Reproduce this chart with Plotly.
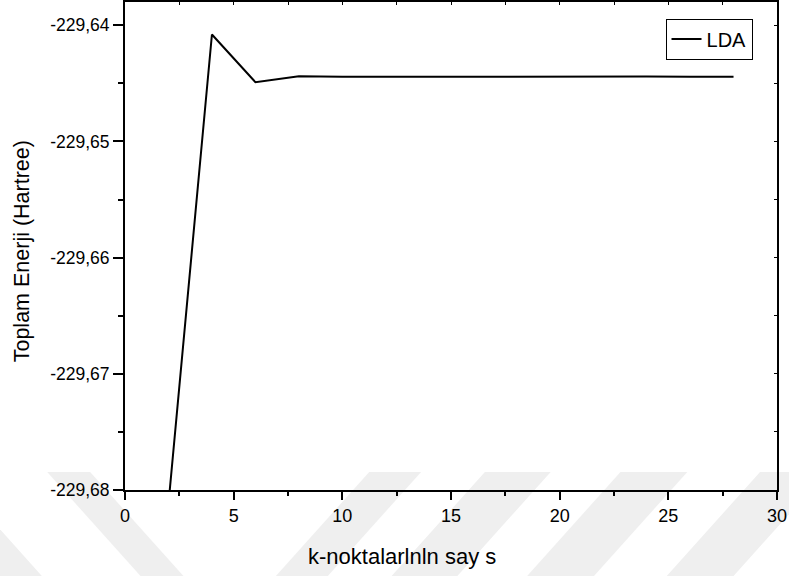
import plotly.graph_objects as go

k_points = [2, 4, 6, 8, 10, 12, 14, 16, 18, 20, 22, 24, 26, 28]
energy = [-229.6812, -229.6408, -229.6449, -229.64440, -229.64443, -229.64442,
          -229.64442, -229.64443, -229.64442, -229.64443, -229.64443, -229.64442,
          -229.64443, -229.64443]
series_name = "LDA"
y_ticks = [-229.68, -229.67, -229.66, -229.65, -229.64]
y_labels = ["-229,68", "-229,67", "-229,66", "-229,65", "-229,64"]
x_ticks = [0, 5, 10, 15, 20, 25, 30]

FONT = "Liberation Sans, Arial, sans-serif"
W, H = 789, 576
ML, MR, MT, MB = 125, 10, 2, 86
PW, PH = W - ML - MR, H - MT - MB


def px2paper(px, py):
    return (px - ML) / PW, (H - MB - py) / PH


# faint background watermark stripes (pixel geometry -> paper coords)
shapes = []
y_top, y_bot = 472, 576
slope = 0.9
stripes = [(-100, 48, +1), (47, 43, +1), (370, 52, -1), (486, 66, -1),
           (622, 67, -1), (762, 67, -1)]
for x0, w, d in stripes:
    dy = y_bot - y_top
    pts = [(x0, y_top), (x0 + w, y_top), (x0 + w + d * slope * dy, y_bot),
           (x0 + d * slope * dy, y_bot)]
    path = "M " + " L ".join("%.5f,%.5f" % px2paper(*p) for p in pts) + " Z"
    shapes.append(dict(type="path", path=path, xref="paper", yref="paper",
                       fillcolor="#efefef", line=dict(width=0), layer="below"))

fig = go.Figure()
fig.add_trace(go.Scatter(x=k_points, y=energy, mode="lines", name=series_name,
                         line=dict(color="black", width=2)))
# invisible trace for the mirrored top/right axes
fig.add_trace(go.Scatter(x=[0, 30], y=[-229.68, -229.638], xaxis="x2", yaxis="y2",
                         mode="lines", line=dict(width=0), showlegend=False,
                         hoverinfo="skip"))

tx, ty = px2paper(403, 556)
yx, yy = px2paper(22, 251)

fig.update_layout(
    width=W, height=H,
    margin=dict(l=ML, r=MR, t=MT, b=MB),
    paper_bgcolor="white", plot_bgcolor="rgba(0,0,0,0)",
    font=dict(family=FONT, color="black", size=18),
    showlegend=True,
    shapes=shapes,
    legend=dict(x=0.829, y=0.966, xanchor="left", yanchor="top",
                bordercolor="black", borderwidth=1, bgcolor="white",
                font=dict(size=20, family=FONT), tracegroupgap=0,
                itemwidth=30),
    xaxis=dict(range=[0, 30], tickvals=x_ticks, ticks="outside", ticklen=8,
               tickwidth=2, tickcolor="black", showline=True, linecolor="black",
               linewidth=2, showgrid=False, zeroline=False,
               ticklabeloverflow="allow",
               tickfont=dict(size=18, family=FONT),
               minor=dict(dtick=2.5, tick0=0, ticks="outside", ticklen=4,
                          tickwidth=2, tickcolor="black", showgrid=False)),
    yaxis=dict(range=[-229.68, -229.638], tickvals=y_ticks, ticktext=y_labels,
               ticks="outside", ticklen=10, tickwidth=2, tickcolor="black",
               showline=True, linecolor="black", linewidth=2, showgrid=False,
               zeroline=False, tickfont=dict(size=17.5, family=FONT),
               minor=dict(dtick=0.005, tick0=-229.68, ticks="outside", ticklen=5,
                          tickwidth=2, tickcolor="black", showgrid=False)),
    xaxis2=dict(range=[0, 30], overlaying="x", side="top", anchor="y",
                dtick=2.5, tick0=0, ticks="inside", ticklen=3, tickwidth=1,
                tickcolor="black", showticklabels=False, showline=True,
                linecolor="black", linewidth=2, showgrid=False, zeroline=False),
    yaxis2=dict(range=[-229.68, -229.638], overlaying="y", side="right",
                anchor="x", dtick=0.005, tick0=-229.68, ticks="inside",
                ticklen=3, tickwidth=1, tickcolor="black", showticklabels=False,
                showline=True, linecolor="black", linewidth=2, showgrid=False,
                zeroline=False),
    annotations=[
        dict(text="k-noktalarlnln say s", x=tx, y=ty, xref="paper", yref="paper",
             xanchor="center", yanchor="middle",
             showarrow=False, font=dict(size=22, family=FONT)),
        dict(text="Toplam Enerji (Hartree)", x=yx, y=yy, xref="paper", yref="paper",
             xanchor="center", yanchor="middle",
             showarrow=False, textangle=-90, font=dict(size=21.5, family=FONT)),
    ],
)

fig.write_html("out.html")
